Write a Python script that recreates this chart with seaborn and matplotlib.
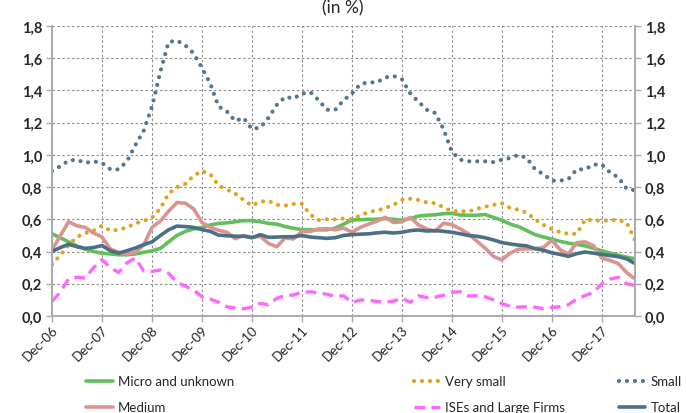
import numpy as np
import pandas as pd
import matplotlib
matplotlib.use("Agg")
import matplotlib.pyplot as plt
import matplotlib.dates as mdates
from matplotlib.ticker import FuncFormatter
import seaborn as sns

# bimonthly readings, Dec-06 .. Aug-18
dates = pd.date_range("2006-12-01", "2018-08-01", freq="2MS")

micro = [0.51, 0.485, 0.46, 0.435, 0.415, 0.40, 0.39, 0.385, 0.38, 0.38, 0.385, 0.395, 0.405, 0.42, 0.46, 0.50, 0.525, 0.54,
         0.55, 0.565, 0.575, 0.578, 0.585, 0.592, 0.592, 0.585, 0.575, 0.57, 0.555, 0.545, 0.535, 0.535, 0.535, 0.535, 0.545,
         0.57, 0.596, 0.598, 0.60, 0.60, 0.605, 0.60, 0.595, 0.605, 0.62, 0.625, 0.628, 0.635, 0.637, 0.627, 0.625, 0.625,
         0.63, 0.612, 0.595, 0.57, 0.555, 0.53, 0.505, 0.49, 0.477, 0.463, 0.452, 0.445, 0.435, 0.42, 0.405, 0.39, 0.377, 0.365, 0.355]
very_small = [0.32, 0.38, 0.44, 0.49, 0.515, 0.53, 0.56, 0.53, 0.535, 0.55, 0.575, 0.59, 0.61, 0.67, 0.76, 0.80, 0.82, 0.87,
              0.90, 0.88, 0.81, 0.785, 0.76, 0.72, 0.685, 0.71, 0.715, 0.69, 0.685, 0.695, 0.695, 0.63, 0.595, 0.60, 0.60,
              0.605, 0.60, 0.625, 0.645, 0.655, 0.67, 0.69, 0.72, 0.728, 0.72, 0.705, 0.70, 0.675, 0.65, 0.652, 0.648, 0.665,
              0.678, 0.69, 0.70, 0.67, 0.66, 0.64, 0.60, 0.565, 0.54, 0.52, 0.51, 0.51, 0.598, 0.595, 0.59, 0.595, 0.596, 0.58, 0.47]
small = [0.90, 0.93, 0.965, 0.97, 0.95, 0.96, 0.95, 0.91, 0.91, 0.96, 1.06, 1.15, 1.30, 1.52, 1.70, 1.71, 1.68, 1.63,
         1.54, 1.44, 1.30, 1.27, 1.21, 1.23, 1.16, 1.17, 1.23, 1.31, 1.36, 1.35, 1.38, 1.39, 1.34, 1.28, 1.28,
         1.34, 1.38, 1.44, 1.45, 1.45, 1.48, 1.49, 1.47, 1.38, 1.33, 1.28, 1.26, 1.16, 1.02, 0.97, 0.96, 0.96,
         0.96, 0.955, 0.97, 0.98, 1.00, 0.98, 0.91, 0.88, 0.84, 0.84, 0.85, 0.91, 0.91, 0.94, 0.94, 0.89, 0.86, 0.79, 0.78]
medium = [0.41, 0.50, 0.585, 0.56, 0.55, 0.515, 0.49, 0.415, 0.395, 0.385, 0.395, 0.44, 0.55, 0.59, 0.65, 0.704, 0.70, 0.665,
          0.58, 0.55, 0.532, 0.52, 0.48, 0.50, 0.488, 0.495, 0.45, 0.43, 0.485, 0.478, 0.525, 0.525, 0.54, 0.542, 0.535,
          0.546, 0.52, 0.55, 0.57, 0.588, 0.612, 0.58, 0.585, 0.612, 0.565, 0.54, 0.526, 0.576, 0.567, 0.54, 0.51, 0.465,
          0.422, 0.37, 0.348, 0.39, 0.415, 0.416, 0.418, 0.426, 0.47, 0.41, 0.385, 0.455, 0.46, 0.437, 0.36, 0.345, 0.325, 0.27, 0.23]
ises_large = [0.09, 0.15, 0.23, 0.24, 0.235, 0.30, 0.35, 0.30, 0.27, 0.33, 0.36, 0.28, 0.277, 0.285, 0.265, 0.21, 0.185, 0.16,
              0.12, 0.105, 0.085, 0.057, 0.05, 0.045, 0.055, 0.078, 0.07, 0.11, 0.128, 0.13, 0.148, 0.15, 0.143, 0.135, 0.122,
              0.125, 0.085, 0.099, 0.099, 0.09, 0.085, 0.093, 0.11, 0.085, 0.125, 0.115, 0.117, 0.128, 0.147, 0.15, 0.125, 0.125,
              0.12, 0.10, 0.077, 0.06, 0.055, 0.057, 0.055, 0.045, 0.053, 0.058, 0.07, 0.105, 0.127, 0.145, 0.20, 0.23, 0.24, 0.20, 0.19]
total = [0.40, 0.425, 0.445, 0.43, 0.42, 0.425, 0.437, 0.405, 0.39, 0.405, 0.422, 0.443, 0.46, 0.50, 0.535, 0.558, 0.555, 0.55,
         0.536, 0.525, 0.502, 0.498, 0.495, 0.495, 0.486, 0.505, 0.488, 0.49, 0.492, 0.492, 0.50, 0.49, 0.486, 0.482, 0.486,
         0.50, 0.505, 0.508, 0.51, 0.516, 0.52, 0.515, 0.52, 0.53, 0.534, 0.527, 0.53, 0.526, 0.52, 0.51, 0.50, 0.495,
         0.486, 0.472, 0.456, 0.447, 0.44, 0.435, 0.418, 0.408, 0.392, 0.382, 0.37, 0.387, 0.397, 0.39, 0.382, 0.375, 0.368, 0.355, 0.325]

labels = ["Micro and unknown", "Very small", "Small", "Medium", "ISEs and Large Firms", "Total"]
y_ticks = [0.0, 0.2, 0.4, 0.6, 0.8, 1.0, 1.2, 1.4, 1.6, 1.8]

sns.set_style("white")
plt.rcParams["font.family"] = ["Lato", "DejaVu Sans"]

green = "#63BE5C"
gold = "#E1A21E"
slate = "#52768A"
salmon = "#DA9391"
magenta = "#FF66FF"
steel = "#4B6F84"

dot = (0, (0.01, 1.9))
styles = {
    "Micro and unknown": dict(color=green, linewidth=2.6, linestyle="-"),
    "Very small": dict(color=gold, linewidth=3.0, linestyle=dot, dash_capstyle="round"),
    "Small": dict(color=slate, linewidth=3.0, linestyle=dot, dash_capstyle="round"),
    "Medium": dict(color=salmon, linewidth=2.6, linestyle="-"),
    "ISEs and Large Firms": dict(color=magenta, linewidth=2.4, linestyle=(0, (3.2, 1.9))),
    "Total": dict(color=steel, linewidth=2.6, linestyle="-"),
}
series = dict(zip(labels, [micro, very_small, small, medium, ises_large, total]))

fig = plt.figure(figsize=(6.86, 4.14), dpi=100)
ax = fig.add_axes([0.0758, 0.2343, 0.8499, 0.7005])

handles = {}
for name in labels:
    sns.lineplot(x=dates, y=series[name], ax=ax, label=name, **styles[name])
    handles[name] = ax.get_lines()[-1]
ax.get_legend().remove()

ax.set_xlim(pd.Timestamp("2006-12-01"), pd.Timestamp("2018-08-01"))
ax.set_ylim(0, 1.8)
ax.set_yticks(y_ticks)
fmt = FuncFormatter(lambda v, p: f"{v:.1f}".replace(".", ","))
ax.yaxis.set_major_formatter(fmt)
ax.xaxis.set_major_locator(mdates.MonthLocator(bymonth=12))
ax.xaxis.set_major_formatter(mdates.DateFormatter("%b-%y"))
ax.set_xlabel("")
ax.set_ylabel("")

ax.grid(True, color="#8C8C8C", linestyle=(0, (2.2, 2.2)), linewidth=0.8)
for s in ["left", "right", "bottom"]:
    ax.spines[s].set_color("#AAAAAA")
    ax.spines[s].set_linewidth(1.4)
ax.spines["top"].set_visible(False)

ax.tick_params(axis="y", which="both", left=True, length=4, width=1, color="#AAAAAA",
               labelsize=10.5, pad=3)
ax.tick_params(axis="x", bottom=True, length=4, width=1, color="#AAAAAA", labelsize=9.5, pad=1)
for t in ax.get_yticklabels():
    t.set_fontweight("bold")
for t in ax.get_xticklabels():
    t.set_rotation(45)
    t.set_ha("right")
    t.set_va("top")
    t.set_rotation_mode("anchor")

ax2 = ax.twinx()
ax2.set_ylim(0, 1.8)
ax2.set_yticks(y_ticks)
ax2.yaxis.set_major_formatter(fmt)
ax2.tick_params(axis="y", right=True, length=4, width=1, color="#AAAAAA", labelsize=10.5, pad=3)
for t in ax2.get_yticklabels():
    t.set_fontweight("bold")
for s in ax2.spines.values():
    s.set_visible(False)
ax2.grid(False)

fig.text(0.5, 0.999, "(in %)", ha="center", va="top", fontsize=12.5)

# legend split into three columns placed separately
cols = [(["Micro and unknown", "Medium"], 0.126),
        (["Very small", "ISEs and Large Firms"], 0.603),
        (["Small", "Total"], 0.902)]
for names, x0 in cols:
    leg = fig.legend([handles[n] for n in names], names, loc="upper left",
                     bbox_to_anchor=(x0, 0.091), frameon=False, fontsize=9.5,
                     handlelength=2.0, handletextpad=0.4, labelspacing=1.05,
                     borderpad=0, borderaxespad=0)

fig.savefig("out.png", dpi=100)
